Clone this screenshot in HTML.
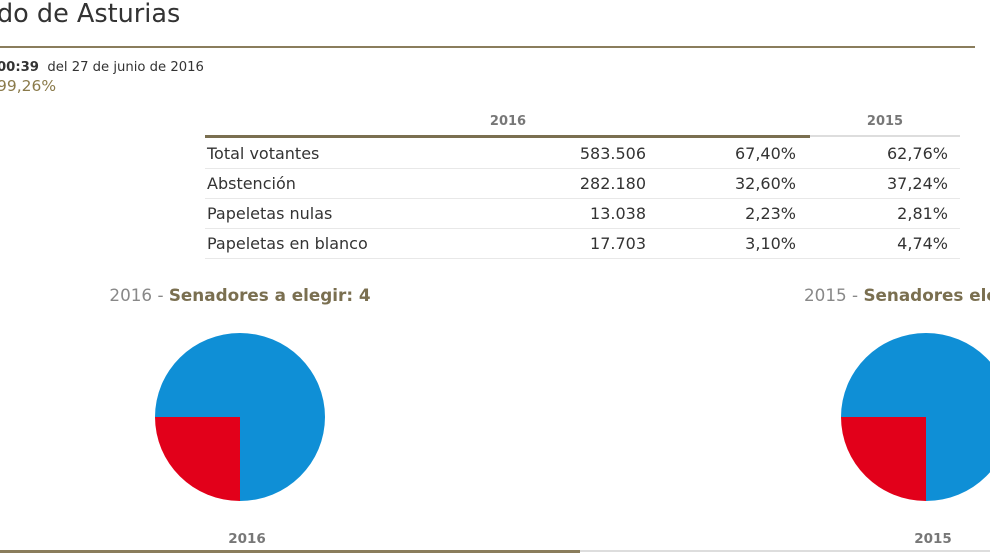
<!DOCTYPE html>
<html><head><meta charset="utf-8"><style>
body{margin:0;width:990px;height:556px;overflow:hidden;background:#fff;font-family:"DejaVu Sans","Liberation Sans",sans-serif;color:#333;position:relative}
.a{position:absolute;white-space:nowrap}
</style></head><body>
<div class="a" style="left:-3px;top:-1px;font-size:25.5px;color:#333">do de Asturias</div>
<div class="a" style="left:0;top:46px;width:975px;height:2px;background:#8a7d5c"></div>
<div class="a" style="left:-3px;top:60px;font-size:13.2px"><b>00:39</b>&nbsp; del 27 de junio de 2016</div>
<div class="a" style="left:-3px;top:77px;font-size:15.5px;color:#8a7a4a">99,26%</div>

<svg class="a" style="left:0;top:0" width="990" height="556">
<g id="tbl"></g>
<g id="pies"></g>
<rect x="0" y="550" width="580" height="3" fill="#8a7d5c"/>
<rect x="580" y="550" width="410" height="2" fill="#ddd"/>
</svg>
<script>
const rowLabels=["Total votantes","Abstención","Papeletas nulas","Papeletas en blanco"];
const votes2016=["583.506","282.180","13.038","17.703"];
const pct2016=["67,40%","32,60%","2,23%","3,10%"];
const pct2015=["62,76%","37,24%","2,81%","4,74%"];
const pieYears=["2016","2015"];
const pieTitles=["2016 - ","2015 - "];
const pieBold=["Senadores a elegir: 4","Senadores elegir: 4"];
const seatsBlue=[3,3];
const seatsRed=[1,1];
const NS="http://www.w3.org/2000/svg";
function mk(tag,attrs,parent,text){const e=document.createElementNS(NS,tag);for(const k in attrs)e.setAttribute(k,attrs[k]);if(text!==undefined)e.textContent=text;parent.appendChild(e);return e;}
const tbl=document.getElementById('tbl');
let h=mk('text',{x:508,y:125,'font-size':13,'font-weight':'bold','text-anchor':'middle',fill:'#777'},tbl,'2016');

h=mk('text',{x:885,y:125,'font-size':13,'font-weight':'bold','text-anchor':'middle',fill:'#777'},tbl,'2015');

mk('rect',{x:205,y:135,width:605,height:3,fill:'#7a6f50'},tbl);
mk('rect',{x:810,y:135,width:150,height:2,fill:'#ddd'},tbl);
rowLabels.forEach((l,i)=>{const y=159+i*30;
 const g=mk('g',{},tbl);
 mk('text',{x:207,y:y,'font-size':16,fill:'#333'},g,l);
 mk('text',{x:646,y:y,'font-size':16,'text-anchor':'end',fill:'#333'},g,votes2016[i]);
 mk('text',{x:796,y:y,'font-size':16,'text-anchor':'end',fill:'#333'},g,pct2016[i]);
 mk('text',{x:948,y:y,'font-size':16,'text-anchor':'end',fill:'#333'},g,pct2015[i]);
 mk('rect',{x:205,y:y+9,width:755,height:1,fill:'#e8e8e8'},g);
});
const pies=document.getElementById('pies');
const cxs=[240,926];
pieYears.forEach((yr,i)=>{const cx=cxs[i],cy=417,rx=85,ry=84;
 const g=mk('g',{},pies);
 const t=mk('text',{x:cx,y:301,'font-size':16.8,'text-anchor':'middle',fill:'#888'},g);
 mk('tspan',{},t,pieTitles[i]);mk('tspan',{'font-weight':'bold',fill:'#7a6f50'},t,pieBold[i]);
 const tot=seatsBlue[i]+seatsRed[i];let a0=-Math.PI/2;
 [[seatsBlue[i],'#0f8fd6'],[seatsRed[i],'#e2001a']].forEach(([v,c],k)=>{const a1=a0+v/tot*2*Math.PI;
  const p=(a)=>[cx+rx*Math.sin(a),cy-ry*Math.cos(a)];const s=p(a0),e=p(a1);
  const path=mk('path',{d:`M${cx},${cy}L${s[0]},${s[1]}A${rx},${ry} 0 ${a1-a0>Math.PI?1:0} 1 ${e[0]},${e[1]}Z`,fill:c},g);
  a0=a1;});
 mk('text',{x:cx+7,y:543,'font-size':13.5,'font-weight':'bold','text-anchor':'middle',fill:'#777'},g,yr);
});
</script>
</body></html>
